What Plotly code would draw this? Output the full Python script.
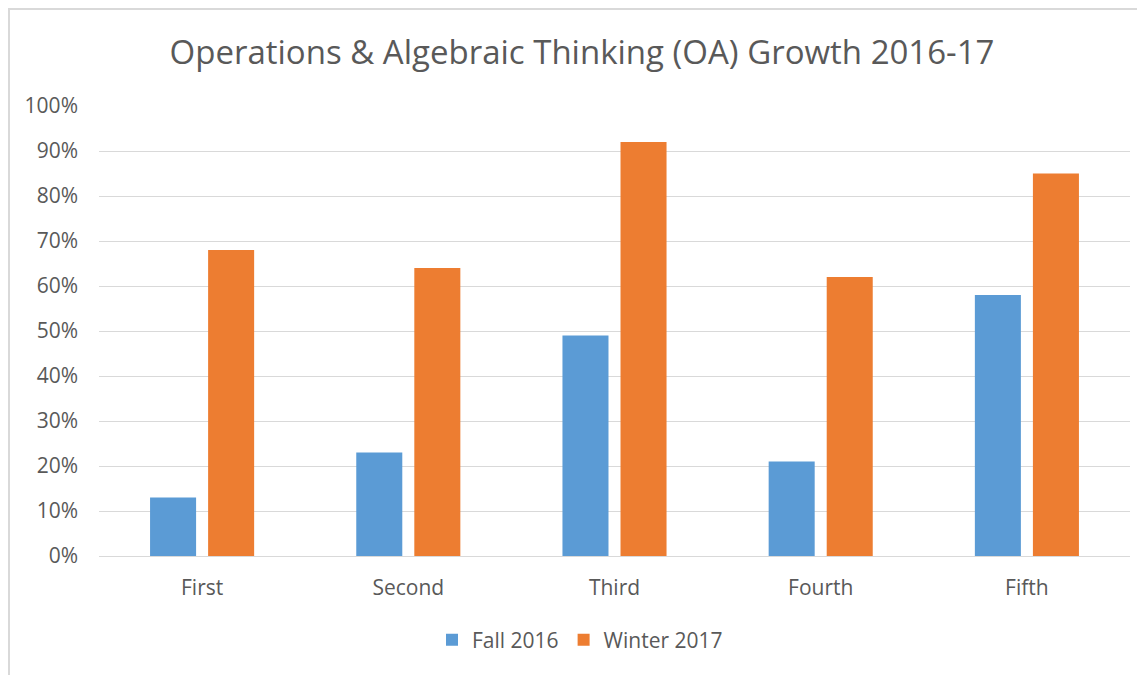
import plotly.graph_objects as go

categories = ["First", "Second", "Third", "Fourth", "Fifth"]
fall_2016 = [13, 23, 49, 21, 58]
winter_2017 = [68, 64, 92, 62, 85]
y_ticks = [0, 10, 20, 30, 40, 50, 60, 70, 80, 90, 100]
y_tick_labels = [f"{v}%" for v in y_ticks]

font_family = "Open Sans, Liberation Sans, sans-serif"
text_color = "#595959"

fig = go.Figure()
fig.add_trace(go.Bar(name="Fall 2016", x=categories, y=fall_2016,
                     marker=dict(color="#5B9BD5", line=dict(width=0))))
fig.add_trace(go.Bar(name="Winter 2017", x=categories, y=winter_2017,
                     marker=dict(color="#ED7D31", line=dict(width=0))))

W, H = 1145, 675
L, T = 91, 98
R = W - 1122
B = H - 548
pw, ph = W - L - R, H - T - B

def px_x(p):
    return (p - L) / pw

def px_y(p):
    return (H - B - p) / ph

fig.update_layout(
    width=W, height=H,
    margin=dict(l=L, r=R, t=T, b=B),
    paper_bgcolor="white", plot_bgcolor="white",
    barmode="group", bargap=0.437, bargroupgap=0.207,
    font=dict(family=font_family, color=text_color, size=21),
    title=dict(text="Operations & Algebraic Thinking (OA) Growth 2016-17",
               x=574 / W, xref="container", xanchor="center",
               y=1 - 44 / H, yref="container", yanchor="middle",
               font=dict(size=33, color=text_color, family=font_family)),
    showlegend=True,
    legend=dict(orientation="h", x=px_x(572), xanchor="center",
                y=px_y(632), yanchor="middle",
                font=dict(size=21, color=text_color),
                traceorder="normal"),
    xaxis=dict(showgrid=False, showline=True, linecolor="#d9d9d9", linewidth=1,
               ticks="", tickfont=dict(size=21, color=text_color),
               ticklabelstandoff=13),
    yaxis=dict(range=[0, 100], tickvals=y_ticks, ticktext=y_tick_labels,
               showgrid=True, gridcolor="#d9d9d9", gridwidth=1,
               zeroline=False, showline=False, ticks="",
               tickfont=dict(size=21, color=text_color),
               ticklabelstandoff=20),
    shapes=[dict(type="rect", xref="paper", yref="paper",
                 x0=px_x(1), x1=px_x(1160), y0=px_y(700), y1=px_y(1),
                 line=dict(color="#d9d9d9", width=2), fillcolor="rgba(0,0,0,0)",
                 layer="below")],
)

fig.write_html("out.html")
